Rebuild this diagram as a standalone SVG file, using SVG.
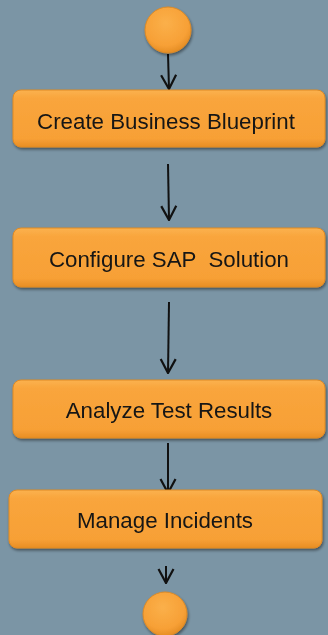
<svg xmlns="http://www.w3.org/2000/svg" width="328" height="635" viewBox="0 0 328 635">
<defs>
<linearGradient id="boxg" x1="0" y1="0" x2="0" y2="1">
<stop offset="0" stop-color="#fbb24f"/>
<stop offset="0.15" stop-color="#f9a53c"/>
<stop offset="0.85" stop-color="#f7a036"/>
<stop offset="1" stop-color="#e88e25"/>
</linearGradient>
<radialGradient id="circg" cx="0.45" cy="0.35" r="0.7">
<stop offset="0" stop-color="#fbb04a"/>
<stop offset="0.7" stop-color="#f7a036"/>
<stop offset="1" stop-color="#e0881f"/>
</radialGradient>
<filter id="sh" x="-10%" y="-20%" width="120%" height="160%">
<feGaussianBlur in="SourceAlpha" stdDeviation="1.5"/>
<feOffset dx="1" dy="2" result="b"/>
<feComponentTransfer><feFuncA type="linear" slope="0.45"/></feComponentTransfer>
<feMerge><feMergeNode/><feMergeNode in="SourceGraphic"/></feMerge>
</filter>
<marker id="ah" markerWidth="16" markerHeight="18" viewBox="0 0 16 18" refX="15" refY="9" orient="auto" markerUnits="userSpaceOnUse">
<path d="M1 1.5 L15 9 L1 16.5" fill="none" stroke="#111" stroke-width="2.2"/>
</marker>
</defs>
<style>
.box{fill:url(#boxg);stroke:#e08a22;stroke-width:1}
.circ{fill:url(#circg);stroke:#dd8a25;stroke-width:1}
.lbl{font-family:"Liberation Sans",Arial,sans-serif;font-size:22.3px;fill:#151515;text-anchor:middle;dominant-baseline:central;white-space:pre}
.con{stroke:#111;stroke-width:2;fill:none}
</style>
<rect width="328" height="635" fill="#7b95a5"/>
<g id="connectors">
<line class="con" x1="168" y1="54" x2="169" y2="89" marker-end="url(#ah)"/>
<line class="con" x1="168" y1="164" x2="169" y2="220" marker-end="url(#ah)"/>
<line class="con" x1="169" y1="302" x2="168" y2="373" marker-end="url(#ah)"/>
<line class="con" x1="168" y1="443" x2="168" y2="493" marker-end="url(#ah)"/>
<line class="con" x1="166" y1="566" x2="166" y2="583" marker-end="url(#ah)"/>
</g>
<g id="start" filter="url(#sh)"><circle class="circ" cx="168" cy="30" r="23"/></g>
<g id="n1" filter="url(#sh)"><rect class="box" x="13" y="90" width="312" height="57" rx="8"/><text class="lbl" x="166" y="121">Create Business Blueprint</text></g>
<g id="n2" filter="url(#sh)"><rect class="box" x="13" y="228" width="312" height="59" rx="8"/><text class="lbl" x="169" y="259" xml:space="preserve">Configure SAP  Solution</text></g>
<g id="n3" filter="url(#sh)"><rect class="box" x="13" y="380" width="312" height="58" rx="8"/><text class="lbl" x="169" y="410">Analyze Test Results</text></g>
<g id="n4" filter="url(#sh)"><rect class="box" x="9" y="490" width="313" height="58" rx="8"/><text class="lbl" x="165" y="520">Manage Incidents</text></g>
<g id="end" filter="url(#sh)"><circle class="circ" cx="165" cy="614" r="22"/></g>
</svg>
